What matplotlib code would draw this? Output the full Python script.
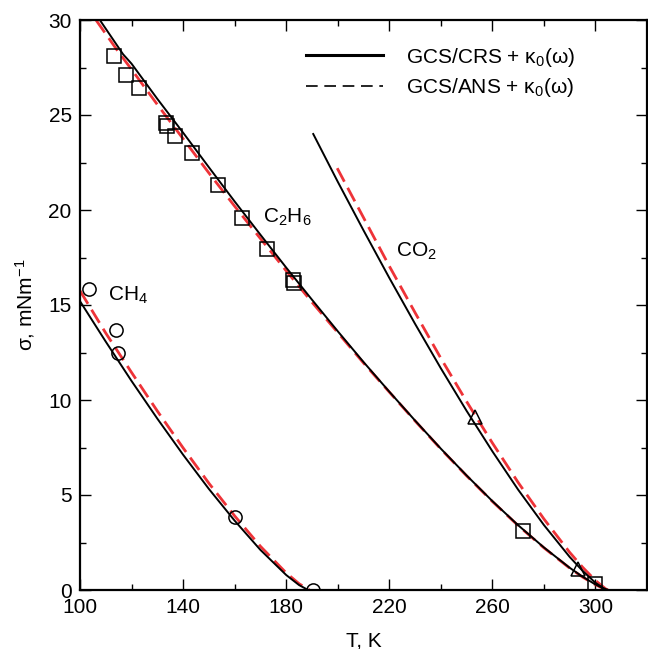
import matplotlib
matplotlib.use("Agg")
from matplotlib import pyplot as plt
from matplotlib.lines import Line2D
from matplotlib.ticker import MultipleLocator

# measured points
ch4_T = [103.5, 113.8, 114.6, 160.0, 190.5]
ch4_s = [15.85, 13.7, 12.5, 3.85, 0.0]
c2h6_T = [113.2, 117.8, 123.0, 133.3, 133.6, 136.8, 143.3, 153.4, 163.0, 172.7, 182.8, 183.0, 272.0, 300.0]
c2h6_s = [28.1, 27.1, 26.4, 24.6, 24.4, 23.9, 23.0, 21.3, 19.6, 17.95, 16.3, 16.15, 3.1, 0.3]
co2_T = [253.4, 293.4]
co2_s = [9.1, 1.1]

# GCS/CRS + k0(w), solid black
crs_ch4_T = [100, 110, 120, 130, 140, 150, 160, 170, 180, 185, 188.5]
crs_ch4_s = [15.2, 13.07, 11.0, 9.02, 7.12, 5.32, 3.65, 2.11, 0.79, 0.26, 0.0]
crs_c2h6_T = [107.7, 116.7, 120, 130, 140, 150, 160, 170, 180, 190, 200, 210, 220, 230, 240, 250,
              260, 270, 280, 290, 295, 300, 303, 305]
crs_c2h6_s = [30.0, 28.2, 27.7, 25.85, 24.07, 22.25, 20.45, 18.7, 16.97, 15.28, 13.62, 12.0, 10.44,
              8.92, 7.44, 6.03, 4.68, 3.41, 2.24, 1.17, 0.7, 0.29, 0.09, 0.0]
crs_co2_T = [190.5, 200, 210, 220, 230, 240, 250, 260, 270, 280, 290, 295, 300, 304.2]
crs_co2_s = [24.0, 21.49, 18.93, 16.43, 14.01, 11.67, 9.43, 7.30, 5.28, 3.42, 1.74, 1.01, 0.38, 0.0]

# GCS/ANS + k0(w), dashed red
ans_ch4_T = [100, 110, 120, 130, 140, 150, 160, 170, 180, 185, 189]
ans_ch4_s = [15.75, 13.52, 11.45, 9.42, 7.48, 5.62, 3.9, 2.3, 0.9, 0.33, 0.0]
ans_c2h6_T = [106.2, 115, 120, 130, 140, 150, 160, 170, 180, 190, 200, 210, 220, 230, 240, 250,
              260, 270, 280, 290, 295, 300, 303, 305]
ans_c2h6_s = [30.0, 28.3, 27.4, 25.55, 23.75, 21.95, 20.2, 18.5, 16.8, 15.15, 13.55, 11.95, 10.42,
              8.9, 7.42, 6.01, 4.66, 3.39, 2.22, 1.15, 0.68, 0.28, 0.08, 0.0]
ans_co2_T = [199.8, 210, 220, 230, 240, 250, 260, 270, 280, 290, 295, 300, 304.5]
ans_co2_s = [22.2, 19.6, 17.05, 14.6, 12.2, 9.92, 7.74, 5.66, 3.74, 1.98, 1.2, 0.5, 0.0]

plt.rcParams["font.family"] = ["Liberation Sans", "DejaVu Sans"]
plt.rcParams["mathtext.fontset"] = "custom"
plt.rcParams["mathtext.rm"] = "Liberation Sans"
plt.rcParams["mathtext.it"] = "Liberation Sans:italic"
fs = 15
red = "#ee3338"

fig = plt.figure(figsize=(6.48, 6.49), dpi=100)
ax = fig.add_axes([80 / 648, 59 / 649, 567 / 648, 570 / 649])

for T, s in [(crs_ch4_T, crs_ch4_s), (crs_c2h6_T, crs_c2h6_s), (crs_co2_T, crs_co2_s)]:
    ax.plot(T, s, color="black", lw=1.4, zorder=3)
for T, s in [(ans_ch4_T, ans_ch4_s), (ans_c2h6_T, ans_c2h6_s), (ans_co2_T, ans_co2_s)]:
    ax.plot(T, s, color=red, lw=2.0, dashes=(5.5, 2.5), zorder=2)

mk = dict(mfc="none", mec="black", mew=1.1, ls="none", zorder=4)
ax.plot(ch4_T, ch4_s, "o", ms=9.5, **mk)
ax.plot(c2h6_T, c2h6_s, "s", ms=10.5, **mk)
ax.plot(co2_T, co2_s, "^", ms=10.5, **mk)

ax.text(111.0, 15.5, r"CH$_4$", fontsize=fs, va="center")
ax.text(171.0, 19.6, r"C$_2$H$_6$", fontsize=fs, va="center")
ax.text(222.5, 17.8, r"CO$_2$", fontsize=fs, va="center")

handles = [Line2D([], [], color="black", lw=2.2),
           Line2D([], [], color="black", lw=1.2, dashes=(7, 4))]
labels = [r"GCS/CRS + $\mathregular{κ_0(ω)}$", r"GCS/ANS + $\mathregular{κ_0(ω)}$"]
ax.legend(handles, labels, loc="upper left", bbox_to_anchor=(0.398, 0.955), frameon=False,
          fontsize=fs, handlelength=3.7, handletextpad=1.1, labelspacing=0.35, borderpad=0,
          borderaxespad=0)

ax.set_xlim(100, 320)
ax.set_ylim(0, 30)
ax.xaxis.set_major_locator(MultipleLocator(40, offset=20))
ax.xaxis.set_minor_locator(MultipleLocator(20))
ax.yaxis.set_major_locator(MultipleLocator(5))
ax.yaxis.set_minor_locator(MultipleLocator(2.5))
ax.tick_params(which="both", direction="in", top=True, right=True, labelsize=fs, width=1.0)
ax.tick_params(which="major", length=8, pad=6)
ax.tick_params(which="minor", length=4)
for sp in ax.spines.values():
    sp.set_linewidth(1.6)

ax.set_xlabel("T, K", fontsize=fs, labelpad=10)
ax.set_ylabel(r"σ, mNm$^{-1}$", fontsize=fs, labelpad=8)

fig.savefig("out.png", dpi=100)
